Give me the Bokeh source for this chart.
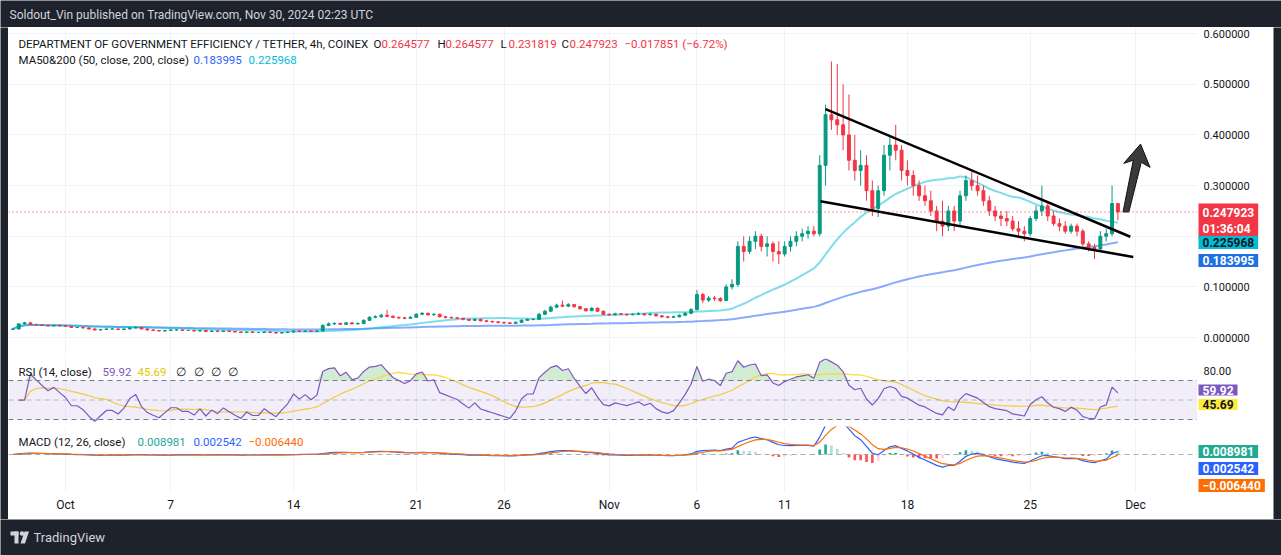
import numpy as np
import pandas as pd
from bokeh.plotting import figure
from bokeh.layouts import column, row
from bokeh.models import (ColumnDataSource, Range1d, FixedTicker, Span, BoxAnnotation,
                          Label, CustomJSTickFormatter)
from bokeh.core.properties import value
from bokeh.embed import file_html
from bokeh.resources import INLINE

# ---------------- data ----------------
publish_note = "Soldout_Vin published on TradingView.com, Nov 30, 2024 02:23 UTC"
symbol_title = "DEPARTMENT OF GOVERNMENT EFFICIENCY / TETHER, 4h, COINEX"
ohlc_labels = ["O", "H", "L", "C"]
ohlc_values = ["0.264577", "0.264577", "0.231819", "0.247923"]
change_text = "\u22120.017851 (\u22126.72%)"
ma_title = "MA50&200 (50, close, 200, close)"
ma_values = ["0.183995", "0.225968"]
countdown = "01:36:04"
rsi_title = "RSI (14, close)"
rsi_values = ["59.92", "45.69"]
rsi_ticks = [80]
macd_title = "MACD (12, 26, close)"
macd_values = ["0.008981", "0.002542", "\u22120.006440"]

first_bar = "2024-09-28 00:00"
bar_hours = 8

opens = [
    .016, .017, .027, .029, .026, .025, .024, .023, .024,
    .023, .022, .020, .020, .019, .017, .015, .016, .017,
    .017, .016, .017, .019, .020, .017, .015, .014, .013,
    .014, .015, .015, .014, .014, .013, .014, .012, .013,
    .012, .013, .012, .011, .010, .011, .010, .010, .011,
    .010, .009, .010, .011, .013, .012, .013, .012, .013,
    .024, .027, .028, .026, .029, .027, .028, .034, .040,
    .041, .044, .042, .040, .039, .038, .040, .046, .048,
    .045, .046, .041, .040, .039, .038, .036, .034, .036,
    .033, .032, .031, .030, .029, .028, .030, .034, .036,
    .036, .046, .052, .060, .064, .062, .065, .061, .057,
    .053, .058, .052, .046, .045, .047, .046, .045, .046,
    .047, .045, .046, .043, .041, .040, .041, .044, .048,
    .055, .085, .074, .078, .077, .073, .100, .105, .180,
    .170, .190, .200, .180, .185, .170, .165, .180, .190,
    .200, .205, .210, .205, .340, .440, .430, .420, .400,
    .350, .330, .340, .290, .255, .290, .360, .380, .370,
    .330, .320, .300, .280, .270, .250, .230, .220, .250,
    .230, .280, .310, .300, .290, .270, .250, .240, .235,
    .230, .215, .210, .205, .235, .250, .260, .240, .225,
    .220, .210, .220, .210, .185, .178, .175, .200, .205,
    .264577]
highs = [
    .018, .028, .031, .030, .027, .026, .025, .025, .025,
    .024, .023, .021, .021, .020, .018, .017, .018, .018,
    .018, .018, .020, .022, .021, .018, .016, .015, .015,
    .016, .016, .016, .015, .015, .015, .015, .014, .014,
    .014, .014, .013, .012, .012, .012, .011, .012, .012,
    .011, .011, .012, .014, .014, .014, .014, .014, .026,
    .030, .030, .029, .031, .030, .030, .036, .042, .044,
    .047, .055, .044, .041, .040, .042, .048, .050, .049,
    .048, .047, .043, .041, .040, .039, .037, .038, .037,
    .034, .033, .032, .031, .030, .032, .036, .038, .038,
    .048, .055, .063, .067, .073, .068, .066, .062, .058,
    .060, .059, .053, .048, .049, .048, .047, .048, .050,
    .048, .048, .047, .044, .042, .043, .046, .050, .058,
    .094, .088, .082, .082, .080, .105, .115, .190, .200,
    .200, .210, .205, .200, .190, .190, .190, .200, .210,
    .215, .220, .220, .360, .460, .545, .540, .500, .480,
    .400, .370, .360, .310, .300, .380, .400, .420, .380,
    .350, .330, .310, .300, .290, .260, .270, .260, .260,
    .290, .320, .330, .320, .300, .280, .260, .250, .250,
    .240, .230, .220, .240, .260, .300, .270, .250, .235,
    .230, .225, .225, .215, .190, .185, .210, .215, .300,
    .264577]
lows = [
    .015, .016, .026, .025, .024, .023, .022, .022, .022,
    .021, .019, .019, .018, .016, .014, .014, .015, .016,
    .015, .016, .016, .018, .016, .014, .013, .012, .012,
    .013, .014, .013, .013, .012, .012, .011, .011, .011,
    .011, .011, .010, .009, .009, .009, .009, .009, .009,
    .008, .008, .009, .010, .011, .011, .011, .011, .012,
    .023, .025, .025, .025, .026, .026, .027, .033, .038,
    .039, .040, .038, .036, .036, .037, .039, .044, .043,
    .043, .040, .038, .037, .036, .034, .033, .033, .032,
    .030, .029, .028, .027, .027, .027, .029, .033, .034,
    .035, .045, .051, .058, .060, .060, .059, .055, .051,
    .052, .050, .044, .043, .044, .044, .043, .044, .045,
    .043, .044, .041, .039, .038, .039, .040, .043, .046,
    .054, .068, .070, .072, .070, .072, .095, .100, .150,
    .165, .175, .170, .160, .150, .145, .160, .170, .180,
    .190, .195, .200, .200, .300, .410, .400, .370, .330,
    .310, .300, .270, .240, .238, .280, .330, .350, .310,
    .300, .280, .270, .260, .240, .210, .200, .210, .210,
    .220, .270, .290, .280, .260, .240, .230, .220, .220,
    .210, .200, .190, .200, .230, .240, .230, .220, .210,
    .205, .205, .200, .180, .170, .155, .170, .190, .200,
    .231819]
closes = [
    .017, .027, .029, .026, .025, .024, .023, .024, .023,
    .022, .020, .020, .019, .017, .015, .016, .017, .017,
    .016, .017, .019, .020, .017, .015, .014, .013, .014,
    .015, .015, .014, .014, .013, .014, .012, .013, .012,
    .013, .012, .011, .010, .011, .010, .010, .011, .010,
    .009, .010, .011, .013, .012, .013, .012, .013, .024,
    .027, .028, .026, .029, .027, .028, .034, .040, .041,
    .044, .042, .040, .039, .038, .040, .046, .048, .045,
    .046, .041, .040, .039, .038, .036, .034, .036, .033,
    .032, .031, .030, .029, .028, .030, .034, .036, .036,
    .046, .052, .060, .064, .062, .065, .061, .057, .053,
    .058, .052, .046, .045, .047, .046, .045, .046, .047,
    .045, .046, .043, .041, .040, .041, .044, .048, .055,
    .085, .074, .078, .077, .073, .100, .105, .180, .170,
    .190, .200, .180, .185, .170, .165, .180, .190, .200,
    .205, .210, .205, .340, .440, .430, .420, .400, .350,
    .330, .340, .290, .255, .290, .360, .380, .370, .330,
    .320, .300, .280, .270, .250, .230, .220, .250, .230,
    .280, .310, .300, .290, .270, .250, .240, .235, .230,
    .215, .210, .205, .235, .250, .260, .240, .225, .220,
    .210, .220, .210, .185, .178, .175, .200, .205, .264577,
    .247923]

date_ticks = ["2024-10-01", "2024-10-07", "2024-10-14", "2024-10-21", "2024-10-26",
              "2024-11-01", "2024-11-06", "2024-11-11", "2024-11-18", "2024-11-25",
              "2024-12-01"]
date_tick_labels = ["Oct", "7", "14", "21", "26", "Nov", "6", "11", "18", "25", "Dec"]
price_ticks = [0.0, 0.1, 0.2, 0.3, 0.4, 0.5, 0.6]
price_tick_labels = ["0.000000", "0.100000", "", "0.300000", "0.400000", "0.500000", "0.600000"]

# drawn annotations (time, price)
trend_upper_t = ["2024-11-13 08:00", "2024-11-30 17:00"]
trend_upper_p = [0.451, 0.199]
trend_lower_t = ["2024-11-13 01:00", "2024-11-30 21:00"]
trend_lower_p = [0.269, 0.159]
arrow_t = ["2024-11-30 07:00", "2024-11-30 15:00", "2024-12-01 08:00", "2024-12-01 20:00",
           "2024-12-01 07:00", "2024-11-30 08:00", "2024-11-30 21:00"]
arrow_p = [0.248, 0.248, 0.346, 0.336, 0.382, 0.344, 0.350]

# ---------------- derived series ----------------
times = pd.date_range(first_bar, periods=len(closes), freq=f"{bar_hours}h")
bar_ms = bar_hours * 3600 * 1000
o = np.array(opens); h = np.array(highs); l = np.array(lows); c = np.array(closes)
s = pd.Series(c)
# moving averages / MACD periods expressed in 8h bars (same time span as the 4h settings)
ma_fast = s.rolling(25, min_periods=1).mean()
ma_slow = s.rolling(100, min_periods=1).mean()
d = s.diff().fillna(0)
ag = d.clip(lower=0).ewm(alpha=1 / 10, adjust=False).mean()
al = (-d.clip(upper=0)).ewm(alpha=1 / 10, adjust=False).mean()
rsi = 100 - 100 / (1 + ag / al.replace(0, np.nan))
rsi = rsi.fillna(50)
rsi.iloc[0] = np.nan
rsi_ma = rsi.rolling(14, min_periods=1).mean()
ema_f = s.ewm(span=5.5, adjust=False).mean()
ema_s = s.ewm(span=12.5, adjust=False).mean()
macd = ema_f - ema_s
signal = macd.ewm(span=4, adjust=False).mean()
hist = macd - signal

tick_ms = [float(pd.Timestamp(t).value // 10**6) for t in date_ticks]

# ---------------- layout constants ----------------
FW = 1189          # chart frame width
SW = 76            # price-scale column width
EDGE = 8           # dark frame at left/right
TOTAL_W = 1281
oct1 = pd.Timestamp("2024-10-01")
px_day = 17.54
x_start = (oct1 - pd.Timedelta(days=57 / px_day)).value / 1e6
x_end = (oct1 + pd.Timedelta(days=(1197 - 65) / px_day)).value / 1e6
xr = Range1d(x_start, x_end)
FONT = "Roboto"
TXT = "#131722"
UP = "#089981"
DN = "#f23645"
GRID = "#f0f3fa"
DARK = "#1e222d"
SEP = "#131722"


def put(fig, x, y, text, color, size="11.5px", bg=None, pad=None, style="normal"):
    kw = dict(x=x, y=y, x_units="screen", y_units="screen", text=text, text_color=color,
              text_font=FONT, text_font_size=size, text_baseline="middle", text_align="left",
              text_font_style=style)
    if bg is not None:
        kw.update(background_fill_color=bg, background_fill_alpha=1.0,
                  padding=pad or dict(left=4, right=4, top=2, bottom=2))
    fig.add_layout(Label(**kw))


def pane(height, yr, bottom=0):
    f = figure(width=FW, height=height, x_range=xr, y_range=yr, x_axis_type="datetime",
               x_axis_location="below" if bottom else None, y_axis_location=None,
               toolbar_location=None, output_backend="svg", min_border=0,
               min_border_bottom=bottom, background_fill_color="white",
               border_fill_color="white", outline_line_color=None)
    f.xgrid.ticker = FixedTicker(ticks=tick_ms)
    f.xgrid.grid_line_color = GRID
    f.ygrid.grid_line_color = None
    return f


def scale(height, yr, bottom=0):
    f = figure(width=SW, height=height, x_range=Range1d(0, SW), y_range=yr,
               x_axis_location=None, y_axis_location=None, toolbar_location=None,
               output_backend="svg", min_border=0, min_border_bottom=bottom,
               background_fill_color="white", border_fill_color="white",
               outline_line_color=None)
    f.grid.visible = False
    return f


def strip(width, height, bg):
    f = figure(width=width, height=height, x_range=Range1d(0, width),
               y_range=Range1d(0, height), toolbar_location=None, output_backend="svg",
               min_border=0, x_axis_location=None, y_axis_location=None,
               background_fill_color=bg, border_fill_color=bg, outline_line_color=None)
    f.grid.visible = False
    f.scatter([-10], [-10], size=1)
    return f


def sy(page_y, top, hgt):
    return hgt - (page_y - top)


# ---------------- header ----------------
header = strip(TOTAL_W, 27, DARK)
header.add_layout(Label(x=9, y=13, text=publish_note, text_color="#d1d4dc", text_font=FONT,
                        text_font_size="12px", text_baseline="middle"))

# ---------------- main price pane ----------------
MT, MH = 27, 329
main_y = Range1d(-0.0374, 0.6122)
main = pane(MH, main_y)
main.ygrid.ticker = FixedTicker(ticks=price_ticks)
main.ygrid.grid_line_color = GRID

cols = np.where(c >= o, UP, DN)
src = ColumnDataSource(dict(t=times, o=o, h=h, l=l, c=c, top=np.maximum(o, c),
                            bot=np.minimum(o, c), col=cols))
main.line(times, ma_slow, line_color="#2962ff", line_alpha=0.55, line_width=2)
main.line(times, ma_fast, line_color="#00bcd4", line_alpha=0.5, line_width=2)
main.segment(x0="t", y0="l", x1="t", y1="h", line_color="col", line_width=1, source=src)
main.vbar(x="t", width=bar_ms * 0.5, top="top", bottom="bot", fill_color="col",
          line_color="col", line_width=1, source=src)
main.add_layout(Span(location=closes[-1], dimension="width", line_color=DN,
                     line_dash="1 3", line_width=1))
main.line(pd.to_datetime(trend_upper_t), trend_upper_p, line_color="black", line_width=2.5)
main.line(pd.to_datetime(trend_lower_t), trend_lower_p, line_color="black", line_width=2.5)
main.patch(pd.to_datetime(arrow_t), arrow_p, fill_color="#2f2f2f", fill_alpha=0.95,
           line_color="#111111", line_width=1)

put(main, 10, sy(43, MT, MH), symbol_title, TXT)
for lab, val, x0 in zip(ohlc_labels, ohlc_values, [365, 429, 492, 553]):
    put(main, x0, sy(43, MT, MH), lab, TXT)
    put(main, x0 + 8, sy(43, MT, MH), val, DN)
put(main, 616, sy(43, MT, MH), change_text, DN)
put(main, 10, sy(59, MT, MH), ma_title, TXT)
put(main, 185, sy(59, MT, MH), ma_values[0], "#2962ff")
put(main, 240, sy(59, MT, MH), ma_values[1], "#00bcd4")

main_scale = scale(MH, main_y)
main_scale.text(x=[6] * len(price_ticks), y=price_ticks, text=price_tick_labels,
                text_baseline="middle", text_align="left", text_font=value(FONT),
                text_font_size="11px", text_color=TXT)
put(main_scale, 1, sy(220.5, MT, MH), f"{closes[-1]:.6f}\n{countdown}", "white", "12px", DN,
    style="bold")
put(main_scale, 1, sy(242, MT, MH), ma_values[1], TXT, "12px", "#00bcd4", style="bold")
put(main_scale, 1, sy(260, MT, MH), ma_values[0], "white", "12px", "#1f6fe5", style="bold")

# ---------------- RSI pane ----------------
RT, RH = 358, 66
rsi_y = Range1d(24.9, 92.6)
rsi_p = pane(RH, rsi_y)
rsi_p.add_layout(BoxAnnotation(bottom=30, top=70, fill_color="#7e57c2", fill_alpha=0.1,
                               line_color=None))
for lvl, a in [(70, 1.0), (50, 0.5), (30, 1.0)]:
    rsi_p.add_layout(Span(location=lvl, dimension="width", line_color="#787b86",
                          line_alpha=a, line_dash="5 4", line_width=1))
rsi_fill = rsi.fillna(50).values
rsi_p.varea(times, y1=70, y2=np.maximum(rsi_fill, 70), fill_color="#4caf50", fill_alpha=0.25)
rsi_p.varea(times, y1=30, y2=np.minimum(rsi_fill, 30), fill_color="#f23645", fill_alpha=0.25)
rsi_p.line(times, rsi_ma, line_color="#fdd835", line_width=1.2)
rsi_p.line(times, rsi, line_color="#7e57c2", line_width=1.2)
put(rsi_p, 10, sy(371, RT, RH), rsi_title, TXT)
put(rsi_p, 94, sy(371, RT, RH), rsi_values[0], "#7e57c2")
put(rsi_p, 129, sy(371, RT, RH), rsi_values[1], "#e6c700")
for x0 in [167, 185, 202, 219]:
    put(rsi_p, x0, sy(371, RT, RH), "\u2205", TXT)

rsi_scale = scale(RH, rsi_y)
rsi_scale.text(x=[6] * len(rsi_ticks), y=rsi_ticks, text=[f"{t:.2f}" for t in rsi_ticks],
               text_baseline="middle", text_align="left", text_font=value(FONT),
               text_font_size="11px", text_color=TXT)
put(rsi_scale, 1, sy(389.5, RT, RH), rsi_values[0], "white", "12px", "#7e57c2",
    pad=dict(left=4, right=4, top=1, bottom=1), style="bold")
put(rsi_scale, 1, sy(404, RT, RH), rsi_values[1], TXT, "12px", "#ffeb3b",
    pad=dict(left=4, right=4, top=1, bottom=1), style="bold")

# ---------------- MACD pane ----------------
CT, CH, AXH = 426, 66, 27
lo = 3.0 * float(macd.min())
hi = -lo * 28 / 38
macd_y = Range1d(lo, hi)
macd_p = pane(CH + AXH, macd_y, bottom=AXH)
xa = macd_p.xaxis[0]
xa.ticker = FixedTicker(ticks=tick_ms)
xa.formatter = CustomJSTickFormatter(args=dict(tk=tick_ms, lbls=date_tick_labels),
                                     code="const i = tk.indexOf(tick); return i >= 0 ? lbls[i] : '';")
xa.axis_line_color = None
xa.major_tick_line_color = None
xa.minor_tick_line_color = None
xa.major_tick_out = 0
xa.major_tick_in = 0
xa.major_label_text_font = FONT
xa.major_label_text_font_size = "12px"
xa.major_label_text_color = TXT
xa.major_label_standoff = 5
macd_p.add_layout(Span(location=0, dimension="width", line_color="#787b86", line_alpha=0.6,
                       line_dash="5 4", line_width=1))
hv = hist.values
prev = np.concatenate([[0.0], hv[:-1]])
hcol = np.where(hv >= 0, np.where(hv >= prev, "#26a69a", "#b2dfdb"),
                np.where(hv <= prev, "#ff5252", "#ffcdd2"))
macd_p.vbar(x=times, top=hv, bottom=0, width=bar_ms * 0.45, fill_color=hcol, line_color=None)
macd_p.line(times, macd, line_color="#2962ff", line_width=1.2)
macd_p.line(times, signal, line_color="#ff6d00", line_width=1.2)
put(macd_p, 10, sy(441, CT, CH), macd_title, TXT)
put(macd_p, 129, sy(441, CT, CH), macd_values[0], "#26a69a")
put(macd_p, 185, sy(441, CT, CH), macd_values[1], "#2962ff")
put(macd_p, 240, sy(441, CT, CH), macd_values[2], "#ff6d00")

macd_scale = scale(CH + AXH, macd_y, bottom=AXH)
macd_scale.scatter([-10], [0], size=1)
put(macd_scale, 1, sy(451, CT, CH), macd_values[0], "white", "12px", "#22ab94", style="bold")
put(macd_scale, 1, sy(468, CT, CH), macd_values[1], "white", "12px", "#2962ff", style="bold")
put(macd_scale, 1, sy(485, CT, CH), macd_values[2], "white", "12px", "#ff6d00", style="bold")

# ---------------- separators, edges and footer ----------------
sep1 = strip(FW + SW, 2, SEP)
sep2 = strip(FW + SW, 2, SEP)
body_h = MH + 2 + RH + 2 + CH + AXH
left_edge = strip(EDGE, body_h, DARK)
right_edge = strip(EDGE, body_h, DARK)

footer = strip(TOTAL_W, 36, DARK)
footer.quad(left=[10, 14], right=[18, 18], top=[24, 24], bottom=[20, 12], fill_color="#d1d4dc",
            line_color=None)
footer.scatter([21.5], [22], size=4.5, fill_color="#d1d4dc", line_color=None)
footer.patch([24, 28.5, 24.5, 20], [24, 24, 12, 12], fill_color="#d1d4dc", line_color=None)
footer.add_layout(Label(x=33, y=18, text="TradingView", text_color="#d1d4dc", text_font=FONT,
                        text_font_size="13px", text_baseline="middle"))

body = column(row(main, main_scale), sep1, row(rsi_p, rsi_scale), sep2,
              row(macd_p, macd_scale))
layout = column(header, row(left_edge, body, right_edge), footer)
open("out.html", "w").write(file_html(layout, INLINE))
